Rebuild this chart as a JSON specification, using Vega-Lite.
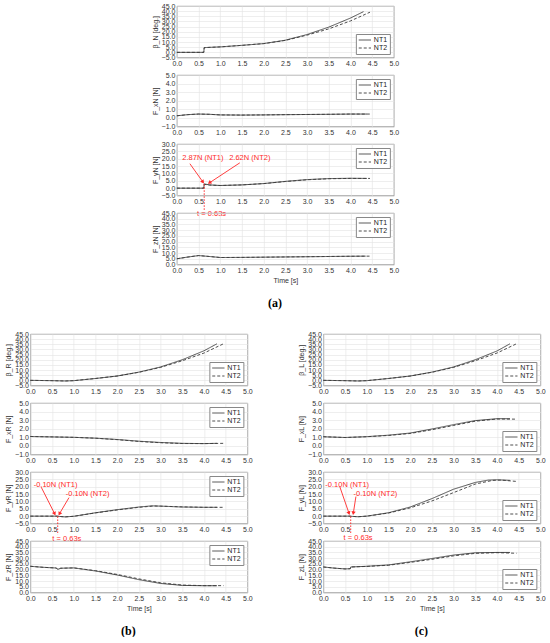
{
"$schema":"https://vega.github.io/schema/vega-lite/v6.json",
"padding":{"left":4,"top":1,"right":0,"bottom":0},
"background":"white",
"config":{
 "view":{"stroke":"#808080","strokeWidth":0.8},
 "axis":{"labelFont":"Liberation Sans","labelFontSize":7,"labelColor":"#333","titleFont":"Liberation Sans","titleFontSize":7,"titleFontWeight":"normal","titleColor":"#333","gridColor":"#e2e2e2","gridWidth":0.6,"domain":false,"ticks":false,"labelPadding":2,"titlePadding":3,"labelOverlap":false,"labelBound":false,"labelFlush":false},
 "legend":{"strokeColor":"#888","fillColor":"#fff","padding":2,"labelFont":"Liberation Sans","labelFontSize":7,"labelColor":"#222","symbolSize":150,"symbolStrokeWidth":0.9,"symbolStrokeColor":"#3a3a3a","rowPadding":0,"labelOffset":2,"offset":4,"clipHeight":8,"symbolType":"stroke","titlePadding":0},
 "title":{"font":"Liberation Serif","fontSize":12,"fontWeight":"bold","color":"#000","orient":"bottom","anchor":"middle","offset":14}
},
"datasets":{"d":[
{"p":"aB","s":"NT1","t":0,"v":0},{"p":"aB","s":"NT1","t":0.62,"v":0},{"p":"aB","s":"NT1","t":0.63,"v":4.6},{"p":"aB","s":"NT1","t":1.0,"v":5.3},{"p":"aB","s":"NT1","t":1.5,"v":6.8},{"p":"aB","s":"NT1","t":2.0,"v":8.5},{"p":"aB","s":"NT1","t":2.5,"v":11.8},{"p":"aB","s":"NT1","t":3.0,"v":17.3},{"p":"aB","s":"NT1","t":3.5,"v":24.5},{"p":"aB","s":"NT1","t":4.0,"v":33.3},{"p":"aB","s":"NT1","t":4.3,"v":39.5},
{"p":"aB","s":"NT2","t":0,"v":0},{"p":"aB","s":"NT2","t":0.62,"v":0},{"p":"aB","s":"NT2","t":0.63,"v":4.6},{"p":"aB","s":"NT2","t":1.0,"v":5.3},{"p":"aB","s":"NT2","t":1.5,"v":6.8},{"p":"aB","s":"NT2","t":2.0,"v":8.5},{"p":"aB","s":"NT2","t":2.5,"v":11.6},{"p":"aB","s":"NT2","t":3.0,"v":16.7},{"p":"aB","s":"NT2","t":3.5,"v":22.8},{"p":"aB","s":"NT2","t":4.0,"v":30.5},{"p":"aB","s":"NT2","t":4.45,"v":39},
{"p":"aX","s":"NT1","t":0,"v":0.25},{"p":"aX","s":"NT1","t":0.25,"v":0.38},{"p":"aX","s":"NT1","t":0.5,"v":0.45},{"p":"aX","s":"NT1","t":0.75,"v":0.42},{"p":"aX","s":"NT1","t":1.0,"v":0.35},{"p":"aX","s":"NT1","t":1.5,"v":0.33},{"p":"aX","s":"NT1","t":2.0,"v":0.35},{"p":"aX","s":"NT1","t":2.5,"v":0.38},{"p":"aX","s":"NT1","t":3.0,"v":0.4},{"p":"aX","s":"NT1","t":3.5,"v":0.42},{"p":"aX","s":"NT1","t":4.0,"v":0.45},{"p":"aX","s":"NT1","t":4.38,"v":0.45},
{"p":"aX","s":"NT2","t":0,"v":0.25},{"p":"aX","s":"NT2","t":0.25,"v":0.38},{"p":"aX","s":"NT2","t":0.5,"v":0.45},{"p":"aX","s":"NT2","t":0.75,"v":0.42},{"p":"aX","s":"NT2","t":1.0,"v":0.35},{"p":"aX","s":"NT2","t":1.5,"v":0.33},{"p":"aX","s":"NT2","t":2.0,"v":0.35},{"p":"aX","s":"NT2","t":2.5,"v":0.38},{"p":"aX","s":"NT2","t":3.0,"v":0.4},{"p":"aX","s":"NT2","t":3.5,"v":0.42},{"p":"aX","s":"NT2","t":4.0,"v":0.45},{"p":"aX","s":"NT2","t":4.45,"v":0.45},
{"p":"aY","s":"NT1","t":0,"v":0},{"p":"aY","s":"NT1","t":0.62,"v":0},{"p":"aY","s":"NT1","t":0.63,"v":2.87},{"p":"aY","s":"NT1","t":0.75,"v":2.2},{"p":"aY","s":"NT1","t":1.0,"v":1.8},{"p":"aY","s":"NT1","t":1.5,"v":2.2},{"p":"aY","s":"NT1","t":2.0,"v":3.1},{"p":"aY","s":"NT1","t":2.5,"v":4.6},{"p":"aY","s":"NT1","t":3.0,"v":5.8},{"p":"aY","s":"NT1","t":3.5,"v":6.5},{"p":"aY","s":"NT1","t":4.0,"v":6.7},{"p":"aY","s":"NT1","t":4.38,"v":6.6},
{"p":"aY","s":"NT2","t":0,"v":0},{"p":"aY","s":"NT2","t":0.62,"v":0},{"p":"aY","s":"NT2","t":0.63,"v":2.62},{"p":"aY","s":"NT2","t":0.75,"v":2.1},{"p":"aY","s":"NT2","t":1.0,"v":1.8},{"p":"aY","s":"NT2","t":1.5,"v":2.2},{"p":"aY","s":"NT2","t":2.0,"v":3.1},{"p":"aY","s":"NT2","t":2.5,"v":4.5},{"p":"aY","s":"NT2","t":3.0,"v":5.7},{"p":"aY","s":"NT2","t":3.5,"v":6.4},{"p":"aY","s":"NT2","t":4.0,"v":6.6},{"p":"aY","s":"NT2","t":4.45,"v":6.6},
{"p":"aZ","s":"NT1","t":0,"v":5},{"p":"aZ","s":"NT1","t":0.25,"v":6.5},{"p":"aZ","s":"NT1","t":0.5,"v":7.8},{"p":"aZ","s":"NT1","t":0.75,"v":7},{"p":"aZ","s":"NT1","t":1.0,"v":6.1},{"p":"aZ","s":"NT1","t":1.5,"v":6.2},{"p":"aZ","s":"NT1","t":2.0,"v":6.4},{"p":"aZ","s":"NT1","t":2.5,"v":6.6},{"p":"aZ","s":"NT1","t":3.0,"v":6.8},{"p":"aZ","s":"NT1","t":3.5,"v":7},{"p":"aZ","s":"NT1","t":4.0,"v":7.2},{"p":"aZ","s":"NT1","t":4.35,"v":7.3},
{"p":"aZ","s":"NT2","t":0,"v":5},{"p":"aZ","s":"NT2","t":0.25,"v":6.5},{"p":"aZ","s":"NT2","t":0.5,"v":7.8},{"p":"aZ","s":"NT2","t":0.75,"v":7},{"p":"aZ","s":"NT2","t":1.0,"v":6.1},{"p":"aZ","s":"NT2","t":1.5,"v":6.2},{"p":"aZ","s":"NT2","t":2.0,"v":6.4},{"p":"aZ","s":"NT2","t":2.5,"v":6.6},{"p":"aZ","s":"NT2","t":3.0,"v":6.8},{"p":"aZ","s":"NT2","t":3.5,"v":7},{"p":"aZ","s":"NT2","t":4.0,"v":7.2},{"p":"aZ","s":"NT2","t":4.45,"v":7.3},
{"p":"bB","s":"NT1","t":0,"v":0},{"p":"bB","s":"NT1","t":0.5,"v":-0.3},{"p":"bB","s":"NT1","t":0.8,"v":-0.6},{"p":"bB","s":"NT1","t":1.0,"v":-0.3},{"p":"bB","s":"NT1","t":1.5,"v":1.8},{"p":"bB","s":"NT1","t":2.0,"v":4.2},{"p":"bB","s":"NT1","t":2.5,"v":8},{"p":"bB","s":"NT1","t":3.0,"v":13},{"p":"bB","s":"NT1","t":3.5,"v":20},{"p":"bB","s":"NT1","t":4.0,"v":28.7},{"p":"bB","s":"NT1","t":4.3,"v":35.5},
{"p":"bB","s":"NT2","t":0,"v":0},{"p":"bB","s":"NT2","t":0.5,"v":-0.3},{"p":"bB","s":"NT2","t":0.8,"v":-0.6},{"p":"bB","s":"NT2","t":1.0,"v":-0.3},{"p":"bB","s":"NT2","t":1.5,"v":1.8},{"p":"bB","s":"NT2","t":2.0,"v":4.2},{"p":"bB","s":"NT2","t":2.5,"v":7.8},{"p":"bB","s":"NT2","t":3.0,"v":12.6},{"p":"bB","s":"NT2","t":3.5,"v":19},{"p":"bB","s":"NT2","t":4.0,"v":26.5},{"p":"bB","s":"NT2","t":4.45,"v":35.5},
{"p":"bX","s":"NT1","t":0,"v":1.1},{"p":"bX","s":"NT1","t":0.5,"v":1.05},{"p":"bX","s":"NT1","t":1.0,"v":1.0},{"p":"bX","s":"NT1","t":1.5,"v":0.9},{"p":"bX","s":"NT1","t":2.0,"v":0.75},{"p":"bX","s":"NT1","t":2.5,"v":0.55},{"p":"bX","s":"NT1","t":3.0,"v":0.4},{"p":"bX","s":"NT1","t":3.5,"v":0.3},{"p":"bX","s":"NT1","t":4.0,"v":0.27},{"p":"bX","s":"NT1","t":4.3,"v":0.3},
{"p":"bX","s":"NT2","t":0,"v":1.1},{"p":"bX","s":"NT2","t":0.5,"v":1.05},{"p":"bX","s":"NT2","t":1.0,"v":1.0},{"p":"bX","s":"NT2","t":1.5,"v":0.9},{"p":"bX","s":"NT2","t":2.0,"v":0.73},{"p":"bX","s":"NT2","t":2.5,"v":0.52},{"p":"bX","s":"NT2","t":3.0,"v":0.37},{"p":"bX","s":"NT2","t":3.5,"v":0.28},{"p":"bX","s":"NT2","t":4.0,"v":0.27},{"p":"bX","s":"NT2","t":4.45,"v":0.3},
{"p":"bY","s":"NT1","t":0,"v":0},{"p":"bY","s":"NT1","t":0.62,"v":0},{"p":"bY","s":"NT1","t":0.63,"v":-0.1},{"p":"bY","s":"NT1","t":0.8,"v":-0.5},{"p":"bY","s":"NT1","t":1.0,"v":-0.1},{"p":"bY","s":"NT1","t":1.5,"v":2.3},{"p":"bY","s":"NT1","t":2.0,"v":4.4},{"p":"bY","s":"NT1","t":2.5,"v":6.2},{"p":"bY","s":"NT1","t":2.8,"v":7.0},{"p":"bY","s":"NT1","t":3.0,"v":6.8},{"p":"bY","s":"NT1","t":3.5,"v":6.2},{"p":"bY","s":"NT1","t":4.0,"v":6.0},{"p":"bY","s":"NT1","t":4.3,"v":6.0},
{"p":"bY","s":"NT2","t":0,"v":0},{"p":"bY","s":"NT2","t":0.62,"v":0},{"p":"bY","s":"NT2","t":0.63,"v":-0.1},{"p":"bY","s":"NT2","t":0.8,"v":-0.5},{"p":"bY","s":"NT2","t":1.0,"v":-0.1},{"p":"bY","s":"NT2","t":1.5,"v":2.2},{"p":"bY","s":"NT2","t":2.0,"v":4.2},{"p":"bY","s":"NT2","t":2.5,"v":6.0},{"p":"bY","s":"NT2","t":2.85,"v":6.9},{"p":"bY","s":"NT2","t":3.0,"v":6.8},{"p":"bY","s":"NT2","t":3.5,"v":6.3},{"p":"bY","s":"NT2","t":4.0,"v":6.0},{"p":"bY","s":"NT2","t":4.45,"v":6.0},
{"p":"bZ","s":"NT1","t":0,"v":22.9},{"p":"bZ","s":"NT1","t":0.3,"v":22},{"p":"bZ","s":"NT1","t":0.6,"v":21.4},{"p":"bZ","s":"NT1","t":0.63,"v":20.2},{"p":"bZ","s":"NT1","t":0.7,"v":21.2},{"p":"bZ","s":"NT1","t":1.0,"v":21.5},{"p":"bZ","s":"NT1","t":1.5,"v":18.8},{"p":"bZ","s":"NT1","t":2.0,"v":15.3},{"p":"bZ","s":"NT1","t":2.5,"v":11.2},{"p":"bZ","s":"NT1","t":3.0,"v":7.9},{"p":"bZ","s":"NT1","t":3.5,"v":6.2},{"p":"bZ","s":"NT1","t":4.0,"v":5.9},{"p":"bZ","s":"NT1","t":4.3,"v":5.9},
{"p":"bZ","s":"NT2","t":0,"v":22.9},{"p":"bZ","s":"NT2","t":0.3,"v":22},{"p":"bZ","s":"NT2","t":0.6,"v":21.4},{"p":"bZ","s":"NT2","t":0.63,"v":20.2},{"p":"bZ","s":"NT2","t":0.7,"v":21.2},{"p":"bZ","s":"NT2","t":1.0,"v":21.5},{"p":"bZ","s":"NT2","t":1.5,"v":19.1},{"p":"bZ","s":"NT2","t":2.0,"v":15.8},{"p":"bZ","s":"NT2","t":2.5,"v":11.9},{"p":"bZ","s":"NT2","t":3.0,"v":8.5},{"p":"bZ","s":"NT2","t":3.5,"v":6.5},{"p":"bZ","s":"NT2","t":4.0,"v":6.0},{"p":"bZ","s":"NT2","t":4.45,"v":6.0},
{"p":"cB","s":"NT1","t":0,"v":0},{"p":"cB","s":"NT1","t":0.5,"v":-0.3},{"p":"cB","s":"NT1","t":0.8,"v":-0.6},{"p":"cB","s":"NT1","t":1.0,"v":-0.3},{"p":"cB","s":"NT1","t":1.5,"v":1.8},{"p":"cB","s":"NT1","t":2.0,"v":4.2},{"p":"cB","s":"NT1","t":2.5,"v":8},{"p":"cB","s":"NT1","t":3.0,"v":13},{"p":"cB","s":"NT1","t":3.5,"v":20},{"p":"cB","s":"NT1","t":4.0,"v":28.5},{"p":"cB","s":"NT1","t":4.3,"v":35.5},
{"p":"cB","s":"NT2","t":0,"v":0},{"p":"cB","s":"NT2","t":0.5,"v":-0.3},{"p":"cB","s":"NT2","t":0.8,"v":-0.6},{"p":"cB","s":"NT2","t":1.0,"v":-0.3},{"p":"cB","s":"NT2","t":1.5,"v":1.8},{"p":"cB","s":"NT2","t":2.0,"v":4.2},{"p":"cB","s":"NT2","t":2.5,"v":7.8},{"p":"cB","s":"NT2","t":3.0,"v":12.6},{"p":"cB","s":"NT2","t":3.5,"v":19},{"p":"cB","s":"NT2","t":4.0,"v":26.5},{"p":"cB","s":"NT2","t":4.45,"v":35.5},
{"p":"cX","s":"NT1","t":0,"v":1.07},{"p":"cX","s":"NT1","t":0.5,"v":0.98},{"p":"cX","s":"NT1","t":1.0,"v":1.08},{"p":"cX","s":"NT1","t":1.5,"v":1.25},{"p":"cX","s":"NT1","t":2.0,"v":1.5},{"p":"cX","s":"NT1","t":2.5,"v":1.97},{"p":"cX","s":"NT1","t":3.0,"v":2.48},{"p":"cX","s":"NT1","t":3.5,"v":2.95},{"p":"cX","s":"NT1","t":4.0,"v":3.17},{"p":"cX","s":"NT1","t":4.3,"v":3.17},
{"p":"cX","s":"NT2","t":0,"v":1.07},{"p":"cX","s":"NT2","t":0.5,"v":0.98},{"p":"cX","s":"NT2","t":1.0,"v":1.07},{"p":"cX","s":"NT2","t":1.5,"v":1.22},{"p":"cX","s":"NT2","t":2.0,"v":1.45},{"p":"cX","s":"NT2","t":2.5,"v":1.88},{"p":"cX","s":"NT2","t":3.0,"v":2.38},{"p":"cX","s":"NT2","t":3.5,"v":2.88},{"p":"cX","s":"NT2","t":4.0,"v":3.13},{"p":"cX","s":"NT2","t":4.45,"v":3.12},
{"p":"cY","s":"NT1","t":0,"v":0},{"p":"cY","s":"NT1","t":0.62,"v":0},{"p":"cY","s":"NT1","t":0.63,"v":-0.1},{"p":"cY","s":"NT1","t":0.8,"v":-0.4},{"p":"cY","s":"NT1","t":1.0,"v":0},{"p":"cY","s":"NT1","t":1.5,"v":2.3},{"p":"cY","s":"NT1","t":2.0,"v":6.2},{"p":"cY","s":"NT1","t":2.5,"v":11.9},{"p":"cY","s":"NT1","t":3.0,"v":18.3},{"p":"cY","s":"NT1","t":3.5,"v":22.9},{"p":"cY","s":"NT1","t":3.8,"v":24.5},{"p":"cY","s":"NT1","t":4.0,"v":24.7},{"p":"cY","s":"NT1","t":4.3,"v":24.3},
{"p":"cY","s":"NT2","t":0,"v":0},{"p":"cY","s":"NT2","t":0.62,"v":0},{"p":"cY","s":"NT2","t":0.63,"v":-0.1},{"p":"cY","s":"NT2","t":0.8,"v":-0.4},{"p":"cY","s":"NT2","t":1.0,"v":0},{"p":"cY","s":"NT2","t":1.5,"v":2.1},{"p":"cY","s":"NT2","t":2.0,"v":5.6},{"p":"cY","s":"NT2","t":2.5,"v":10.3},{"p":"cY","s":"NT2","t":3.0,"v":16},{"p":"cY","s":"NT2","t":3.5,"v":21.8},{"p":"cY","s":"NT2","t":3.9,"v":24.3},{"p":"cY","s":"NT2","t":4.1,"v":24.5},{"p":"cY","s":"NT2","t":4.45,"v":23.6},
{"p":"cZ","s":"NT1","t":0,"v":22.3},{"p":"cZ","s":"NT1","t":0.25,"v":21.3},{"p":"cZ","s":"NT1","t":0.5,"v":20.6},{"p":"cZ","s":"NT1","t":0.62,"v":20.8},{"p":"cZ","s":"NT1","t":0.63,"v":22.3},{"p":"cZ","s":"NT1","t":1.0,"v":22.9},{"p":"cZ","s":"NT1","t":1.5,"v":24.1},{"p":"cZ","s":"NT1","t":2.0,"v":26.8},{"p":"cZ","s":"NT1","t":2.5,"v":29.7},{"p":"cZ","s":"NT1","t":3.0,"v":32.7},{"p":"cZ","s":"NT1","t":3.5,"v":34.7},{"p":"cZ","s":"NT1","t":4.0,"v":35},{"p":"cZ","s":"NT1","t":4.3,"v":35},
{"p":"cZ","s":"NT2","t":0,"v":22.3},{"p":"cZ","s":"NT2","t":0.25,"v":21.3},{"p":"cZ","s":"NT2","t":0.5,"v":20.6},{"p":"cZ","s":"NT2","t":0.62,"v":20.8},{"p":"cZ","s":"NT2","t":0.63,"v":22.3},{"p":"cZ","s":"NT2","t":1.0,"v":22.8},{"p":"cZ","s":"NT2","t":1.5,"v":23.8},{"p":"cZ","s":"NT2","t":2.0,"v":26.3},{"p":"cZ","s":"NT2","t":2.5,"v":29},{"p":"cZ","s":"NT2","t":3.0,"v":32},{"p":"cZ","s":"NT2","t":3.5,"v":34.2},{"p":"cZ","s":"NT2","t":4.0,"v":34.8},{"p":"cZ","s":"NT2","t":4.45,"v":34.3}
]},
"center":true,
"spacing":20,
"resolve":{"scale":{"strokeDash":"independent"},"legend":{"strokeDash":"independent"}},
"vconcat":[
{"title":{"text":"(a)"},"spacing":17,"bounds":"flush",
 "resolve":{"scale":{"strokeDash":"independent"},"legend":{"strokeDash":"independent"}},
 "vconcat":[
  {"width":217,"height":51.5,"data":{"name":"d"},"transform":[{"filter":"datum.p=='aB'"}],"mark":{"type":"line","color":"#3a3a3a","strokeWidth":0.9},
   "encoding":{"x":{"field":"t","type":"quantitative","scale":{"domain":[0,5],"nice":false},"axis":{"values":[0,0.5,1,1.5,2,2.5,3,3.5,4,4.5,5],"format":".1f","title":null}},
    "y":{"field":"v","type":"quantitative","scale":{"domain":[-5,45],"nice":false},"axis":{"values":[-5,0,5,10,15,20,25,30,35,40,45],"format":".1f","title":"β_N [deg.]"}},
    "strokeDash":{"field":"s","type":"nominal","scale":{"domain":["NT1","NT2"],"range":[[1,0],[3,2]]},"legend":{"title":null,"orient":"bottom-right"}}}},
  {"width":217,"height":51.5,"data":{"name":"d"},"transform":[{"filter":"datum.p=='aX'"}],"mark":{"type":"line","color":"#3a3a3a","strokeWidth":0.9},
   "encoding":{"x":{"field":"t","type":"quantitative","scale":{"domain":[0,5],"nice":false},"axis":{"values":[0,0.5,1,1.5,2,2.5,3,3.5,4,4.5,5],"format":".1f","title":null}},
    "y":{"field":"v","type":"quantitative","scale":{"domain":[-1,5],"nice":false},"axis":{"values":[-1,0,1,2,3,4,5],"format":".1f","title":"F_xN [N]"}},
    "strokeDash":{"field":"s","type":"nominal","scale":{"domain":["NT1","NT2"],"range":[[1,0],[3,2]]},"legend":{"title":null,"orient":"top-right"}}}},
  {"width":217,"height":51.5,
   "encoding":{"x":{"field":"t","type":"quantitative","scale":{"domain":[0,5],"nice":false},"axis":{"values":[0,0.5,1,1.5,2,2.5,3,3.5,4,4.5,5],"format":".1f","title":null}},
    "y":{"field":"v","type":"quantitative","scale":{"domain":[-5,30],"nice":false},"axis":{"values":[-5,0,5,10,15,20,25,30],"format":".1f","title":"F_yN [N]"}}},
   "layer":[
    {"data":{"name":"d"},"transform":[{"filter":"datum.p=='aY'"}],"mark":{"type":"line","color":"#3a3a3a","strokeWidth":0.9},
     "encoding":{"strokeDash":{"field":"s","type":"nominal","scale":{"domain":["NT1","NT2"],"range":[[1,0],[3,2]]},"legend":{"title":null,"orient":"top-right"}}}},
    {"data":{"values":[{"t":0.3,"v":16.6,"t2":0.6,"v2":4.2},{"t":1.45,"v":17.2,"t2":0.75,"v2":3.6}]},"mark":{"type":"rule","color":"#ff2a2a","strokeWidth":0.9},"encoding":{"x2":{"field":"t2"},"y2":{"field":"v2"}}},
    {"data":{"values":[{"t":0.6,"v":4.2,"a":145},{"t":0.75,"v":3.6,"a":236}]},"mark":{"type":"point","shape":"triangle-up","filled":true,"opacity":1,"color":"#ff2a2a","size":18},"encoding":{"angle":{"field":"a","type":"quantitative","scale":null}}},
    {"data":{"values":[{"t":0.63,"v":2.6,"v2":-15.5}]},"mark":{"type":"rule","color":"#ff2a2a","strokeDash":[1.5,1.5],"strokeWidth":1},"encoding":{"y2":{"field":"v2"}}},
    {"data":{"values":[{"t":0.6,"v":20.6,"label":"2.87N (NT1)"},{"t":1.68,"v":20.6,"label":"2.62N (NT2)"},{"t":0.8,"v":-17.8,"label":"t = 0.63s"}]},"mark":{"type":"text","color":"#ff2a2a","fontSize":7.5,"font":"Liberation Sans"},"encoding":{"text":{"field":"label"}}}
   ]},
  {"width":217,"height":51.5,"data":{"name":"d"},"transform":[{"filter":"datum.p=='aZ'"}],"mark":{"type":"line","color":"#3a3a3a","strokeWidth":0.9},
   "encoding":{"x":{"field":"t","type":"quantitative","scale":{"domain":[0,5],"nice":false},"axis":{"values":[0,0.5,1,1.5,2,2.5,3,3.5,4,4.5,5],"format":".1f","title":"Time [s]"}},
    "y":{"field":"v","type":"quantitative","scale":{"domain":[0,45],"nice":false},"axis":{"values":[0,5,10,15,20,25,30,35,40,45],"format":".1f","title":"F_zN [N]"}},
    "strokeDash":{"field":"s","type":"nominal","scale":{"domain":["NT1","NT2"],"range":[[1,0],[3,2]]},"legend":{"title":null,"orient":"top-right"}}}}
 ]},
{"hconcat":[
 {"title":{"text":"(b)"},"spacing":17,"bounds":"flush",
  "resolve":{"scale":{"strokeDash":"independent"},"legend":{"strokeDash":"independent"}},
  "vconcat":[
  {"width":217,"height":51.5,"data":{"name":"d"},"transform":[{"filter":"datum.p=='bB'"}],"mark":{"type":"line","color":"#3a3a3a","strokeWidth":0.9},
   "encoding":{"x":{"field":"t","type":"quantitative","scale":{"domain":[0,5],"nice":false},"axis":{"values":[0,0.5,1,1.5,2,2.5,3,3.5,4,4.5,5],"format":".1f","title":null}},
    "y":{"field":"v","type":"quantitative","scale":{"domain":[-5,45],"nice":false},"axis":{"values":[-5,0,5,10,15,20,25,30,35,40,45],"format":".1f","title":"β_R [deg.]"}},
    "strokeDash":{"field":"s","type":"nominal","scale":{"domain":["NT1","NT2"],"range":[[1,0],[3,2]]},"legend":{"title":null,"orient":"bottom-right"}}}},
  {"width":217,"height":51.5,"data":{"name":"d"},"transform":[{"filter":"datum.p=='bX'"}],"mark":{"type":"line","color":"#3a3a3a","strokeWidth":0.9},
   "encoding":{"x":{"field":"t","type":"quantitative","scale":{"domain":[0,5],"nice":false},"axis":{"values":[0,0.5,1,1.5,2,2.5,3,3.5,4,4.5,5],"format":".1f","title":null}},
    "y":{"field":"v","type":"quantitative","scale":{"domain":[-1,5],"nice":false},"axis":{"values":[-1,0,1,2,3,4,5],"format":".1f","title":"F_xR [N]"}},
    "strokeDash":{"field":"s","type":"nominal","scale":{"domain":["NT1","NT2"],"range":[[1,0],[3,2]]},"legend":{"title":null,"orient":"top-right"}}}},
  {"width":217,"height":51.5,
   "encoding":{"x":{"field":"t","type":"quantitative","scale":{"domain":[0,5],"nice":false},"axis":{"values":[0,0.5,1,1.5,2,2.5,3,3.5,4,4.5,5],"format":".1f","title":null}},
    "y":{"field":"v","type":"quantitative","scale":{"domain":[-5,30],"nice":false},"axis":{"values":[-5,0,5,10,15,20,25,30],"format":".1f","title":"F_yR [N]"}}},
   "layer":[
    {"data":{"name":"d"},"transform":[{"filter":"datum.p=='bY'"}],"mark":{"type":"line","color":"#3a3a3a","strokeWidth":0.9},
     "encoding":{"strokeDash":{"field":"s","type":"nominal","scale":{"domain":["NT1","NT2"],"range":[[1,0],[3,2]]},"legend":{"title":null,"orient":"top-right"}}}},
    {"data":{"values":[{"t":0.25,"v":19.7,"t2":0.56,"v2":1.6},{"t":0.89,"v":12.6,"t2":0.67,"v2":1.6}]},"mark":{"type":"rule","color":"#ff2a2a","strokeWidth":0.9},"encoding":{"x2":{"field":"t2"},"y2":{"field":"v2"}}},
    {"data":{"values":[{"t":0.56,"v":1.6,"a":153},{"t":0.67,"v":1.6,"a":210}]},"mark":{"type":"point","shape":"triangle-up","filled":true,"opacity":1,"color":"#ff2a2a","size":18},"encoding":{"angle":{"field":"a","type":"quantitative","scale":null}}},
    {"data":{"values":[{"t":0.63,"v":-0.2,"v2":-12.5}]},"mark":{"type":"rule","color":"#ff2a2a","strokeDash":[1.5,1.5],"strokeWidth":1},"encoding":{"y2":{"field":"v2"}}},
    {"data":{"values":[{"t":0.58,"v":21.1,"label":"-0.10N (NT1)"},{"t":1.32,"v":14.9,"label":"-0.10N (NT2)"},{"t":0.84,"v":-15.5,"label":"t = 0.63s"}]},"mark":{"type":"text","color":"#ff2a2a","fontSize":7.5,"font":"Liberation Sans"},"encoding":{"text":{"field":"label"}}}
   ]},
  {"width":217,"height":51.5,"data":{"name":"d"},"transform":[{"filter":"datum.p=='bZ'"}],"mark":{"type":"line","color":"#3a3a3a","strokeWidth":0.9},
   "encoding":{"x":{"field":"t","type":"quantitative","scale":{"domain":[0,5],"nice":false},"axis":{"values":[0,0.5,1,1.5,2,2.5,3,3.5,4,4.5,5],"format":".1f","title":"Time [s]"}},
    "y":{"field":"v","type":"quantitative","scale":{"domain":[0,45],"nice":false},"axis":{"values":[0,5,10,15,20,25,30,35,40,45],"format":".1f","title":"F_zR [N]"}},
    "strokeDash":{"field":"s","type":"nominal","scale":{"domain":["NT1","NT2"],"range":[[1,0],[3,2]]},"legend":{"title":null,"orient":"top-right"}}}}
 ]},
 {"title":{"text":"(c)"},"spacing":17,"bounds":"flush",
  "resolve":{"scale":{"strokeDash":"independent"},"legend":{"strokeDash":"independent"}},
  "vconcat":[
  {"width":217,"height":51.5,"data":{"name":"d"},"transform":[{"filter":"datum.p=='cB'"}],"mark":{"type":"line","color":"#3a3a3a","strokeWidth":0.9},
   "encoding":{"x":{"field":"t","type":"quantitative","scale":{"domain":[0,5],"nice":false},"axis":{"values":[0,0.5,1,1.5,2,2.5,3,3.5,4,4.5,5],"format":".1f","title":null}},
    "y":{"field":"v","type":"quantitative","scale":{"domain":[-5,45],"nice":false},"axis":{"values":[-5,0,5,10,15,20,25,30,35,40,45],"format":".1f","title":"β_L [deg.]"}},
    "strokeDash":{"field":"s","type":"nominal","scale":{"domain":["NT1","NT2"],"range":[[1,0],[3,2]]},"legend":{"title":null,"orient":"bottom-right"}}}},
  {"width":217,"height":51.5,"data":{"name":"d"},"transform":[{"filter":"datum.p=='cX'"}],"mark":{"type":"line","color":"#3a3a3a","strokeWidth":0.9},
   "encoding":{"x":{"field":"t","type":"quantitative","scale":{"domain":[0,5],"nice":false},"axis":{"values":[0,0.5,1,1.5,2,2.5,3,3.5,4,4.5,5],"format":".1f","title":null}},
    "y":{"field":"v","type":"quantitative","scale":{"domain":[-1,5],"nice":false},"axis":{"values":[-1,0,1,2,3,4,5],"format":".1f","title":"F_xL [N]"}},
    "strokeDash":{"field":"s","type":"nominal","scale":{"domain":["NT1","NT2"],"range":[[1,0],[3,2]]},"legend":{"title":null,"orient":"bottom-right"}}}},
  {"width":217,"height":51.5,
   "encoding":{"x":{"field":"t","type":"quantitative","scale":{"domain":[0,5],"nice":false},"axis":{"values":[0,0.5,1,1.5,2,2.5,3,3.5,4,4.5,5],"format":".1f","title":null}},
    "y":{"field":"v","type":"quantitative","scale":{"domain":[-5,30],"nice":false},"axis":{"values":[-5,0,5,10,15,20,25,30],"format":".1f","title":"F_yL [N]"}}},
   "layer":[
    {"data":{"name":"d"},"transform":[{"filter":"datum.p=='cY'"}],"mark":{"type":"line","color":"#3a3a3a","strokeWidth":0.9},
     "encoding":{"strokeDash":{"field":"s","type":"nominal","scale":{"domain":["NT1","NT2"],"range":[[1,0],[3,2]]},"legend":{"title":null,"orient":"bottom-right"}}}},
    {"data":{"values":[{"t":0.38,"v":19.9,"t2":0.59,"v2":2.0},{"t":0.75,"v":13.3,"t2":0.69,"v2":2.0}]},"mark":{"type":"rule","color":"#ff2a2a","strokeWidth":0.9},"encoding":{"x2":{"field":"t2"},"y2":{"field":"v2"}}},
    {"data":{"values":[{"t":0.59,"v":2.0,"a":161},{"t":0.69,"v":2.0,"a":189}]},"mark":{"type":"point","shape":"triangle-up","filled":true,"opacity":1,"color":"#ff2a2a","size":18},"encoding":{"angle":{"field":"a","type":"quantitative","scale":null}}},
    {"data":{"values":[{"t":0.63,"v":-0.2,"v2":-12.5}]},"mark":{"type":"rule","color":"#ff2a2a","strokeDash":[1.5,1.5],"strokeWidth":1},"encoding":{"y2":{"field":"v2"}}},
    {"data":{"values":[{"t":0.55,"v":21.1,"label":"-0.10N (NT1)"},{"t":1.2,"v":14.9,"label":"-0.10N (NT2)"},{"t":0.8,"v":-15.0,"label":"t = 0.63s"}]},"mark":{"type":"text","color":"#ff2a2a","fontSize":7.5,"font":"Liberation Sans"},"encoding":{"text":{"field":"label"}}}
   ]},
  {"width":217,"height":51.5,"data":{"name":"d"},"transform":[{"filter":"datum.p=='cZ'"}],"mark":{"type":"line","color":"#3a3a3a","strokeWidth":0.9},
   "encoding":{"x":{"field":"t","type":"quantitative","scale":{"domain":[0,5],"nice":false},"axis":{"values":[0,0.5,1,1.5,2,2.5,3,3.5,4,4.5,5],"format":".1f","title":"Time [s]"}},
    "y":{"field":"v","type":"quantitative","scale":{"domain":[0,45],"nice":false},"axis":{"values":[0,5,10,15,20,25,30,35,40,45],"format":".1f","title":"F_zL [N]"}},
    "strokeDash":{"field":"s","type":"nominal","scale":{"domain":["NT1","NT2"],"range":[[1,0],[3,2]]},"legend":{"title":null,"orient":"bottom-right"}}}}
 ]}
],"spacing":43,
 "resolve":{"scale":{"strokeDash":"independent"},"legend":{"strokeDash":"independent"}}}
]
}
